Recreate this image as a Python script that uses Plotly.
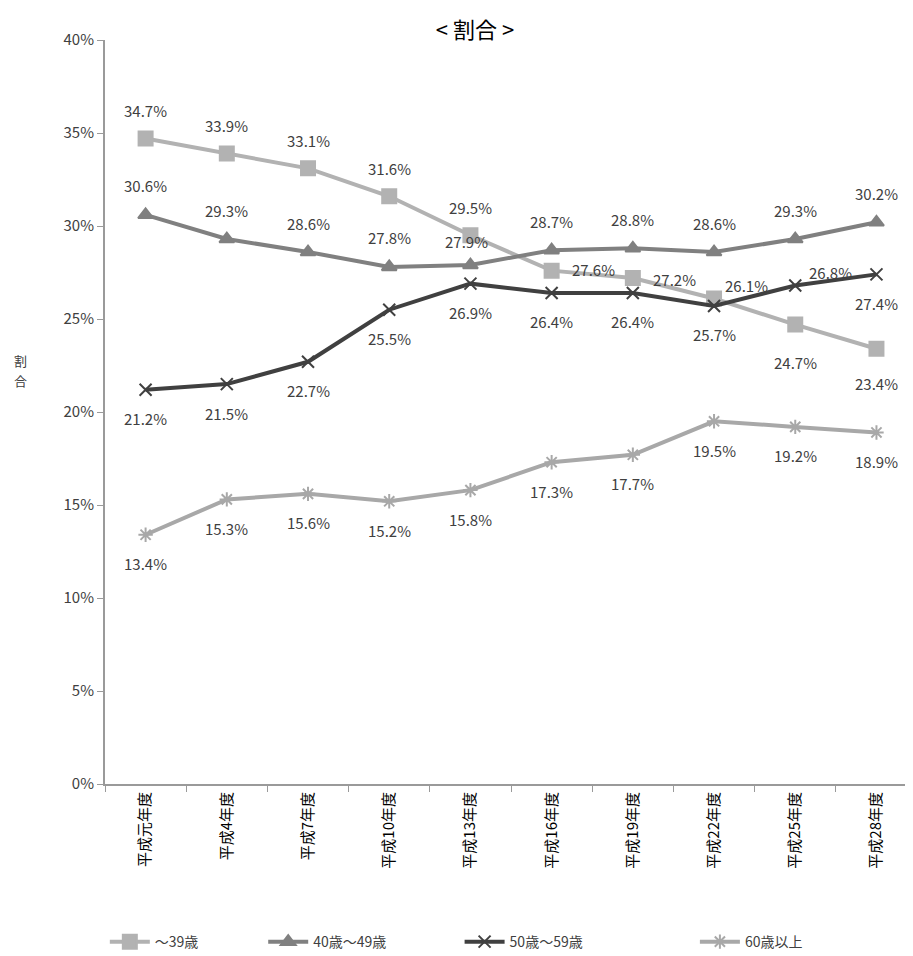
import plotly.graph_objects as go

categories = ["平成元年度", "平成4年度", "平成7年度", "平成10年度", "平成13年度",
              "平成16年度", "平成19年度", "平成22年度", "平成25年度", "平成28年度"]
s_under39 = [34.7, 33.9, 33.1, 31.6, 29.5, 27.6, 27.2, 26.1, 24.7, 23.4]
s_40s = [30.6, 29.3, 28.6, 27.8, 27.9, 28.7, 28.8, 28.6, 29.3, 30.2]
s_50s = [21.2, 21.5, 22.7, 25.5, 26.9, 26.4, 26.4, 25.7, 26.8, 27.4]
s_60plus = [13.4, 15.3, 15.6, 15.2, 15.8, 17.3, 17.7, 19.5, 19.2, 18.9]
names = ["〜39歳", "40歳〜49歳", "50歳〜59歳", "60歳以上"]
y_ticks = [0, 5, 10, 15, 20, 25, 30, 35, 40]

FONT = "Noto Sans CJK JP"
series = [
    (s_under39, "#b2b2b2", "square", 14),
    (s_40s, "#808080", "triangle-up", 13),
    (s_50s, "#404040", "x-thin-open", 12),
    (s_60plus, "#a8a8a8", "asterisk-open", 12),
]
# label offsets (xshift, yshift) per point
offsets = [
    [(0, 28)] * 5 + [(42, 1), (42, -1), (32, 13), (0, -38), (0, -35)],
    [(0, 29)] * 4 + [(-4, 24)] + [(0, 29)] * 5,
    [(0, -29)] * 8 + [(35, 13), (0, -29)],
    [(0, -29)] * 10,
]
legend_ids = ["legend", "legend2", "legend3", "legend4"]
legend_x = [0.107, 0.282, 0.499, 0.759]

fig = go.Figure()
annotations = []
for (vals, color, sym, size), name, offs, lid in zip(series, names, offsets, legend_ids):
    fig.add_trace(go.Scatter(
        x=categories, y=vals, name=name, mode="lines+markers", legend=lid,
        line=dict(color=color, width=4),
        marker=dict(symbol=sym, size=size, color=color,
                    line=dict(color=color, width=2)),
    ))
    for c, v, (dx, dy) in zip(categories, vals, offs):
        annotations.append(dict(
            x=c, y=v, text=f"{v:.1f}%", showarrow=False, xshift=dx, yshift=dy,
            font=dict(size=15, color="#404040", family=FONT),
        ))

for ch, py in zip(["割", "合"], [0.569, 0.542]):
    annotations.append(dict(
        xref="paper", yref="paper", x=-0.105, y=py, text=ch, showarrow=False,
        font=dict(size=13, color="#404040", family=FONT),
        xanchor="center", yanchor="middle",
    ))

legend_common = dict(orientation="h", yref="paper", y=-0.2124, yanchor="middle",
                     xref="container", xanchor="left",
                     font=dict(size=14, color="#404040", family=FONT),
                     itemwidth=40, bgcolor="rgba(0,0,0,0)")
legends = {}
for lid, lx in zip(legend_ids, legend_x):
    legends[lid] = dict(legend_common, x=lx)

fig.update_layout(
    width=905, height=948,
    margin=dict(l=97, r=0, t=32, b=172, autoexpand=False),
    paper_bgcolor="white", plot_bgcolor="white",
    title=dict(text="< 割合 >", x=0.516, xanchor="center",
               yref="container", y=0.977, yanchor="middle",
               font=dict(size=22, color="black", family=FONT)),
    font=dict(family=FONT, color="#404040"),
    showlegend=True,
    annotations=annotations,
    **legends,
)
fig.update_xaxes(
    type="category", range=[-0.5, 9.45],
    showline=True, linecolor="#9a9a9a", linewidth=2,
    ticks="outside", tickson="boundaries", ticklen=6, tickcolor="#9a9a9a",
    tickangle=-90, tickfont=dict(size=15, color="black", family=FONT),
    showgrid=False, mirror=False,
)
fig.update_yaxes(
    range=[0, 40], tickvals=y_ticks, ticktext=[f"{t}%" for t in y_ticks],
    showline=True, linecolor="#9a9a9a", linewidth=2,
    ticks="outside", ticklen=6, tickcolor="#9a9a9a",
    tickfont=dict(size=15, color="#404040", family=FONT),
    showgrid=False, zeroline=False,
)
fig.write_html("out.html")
